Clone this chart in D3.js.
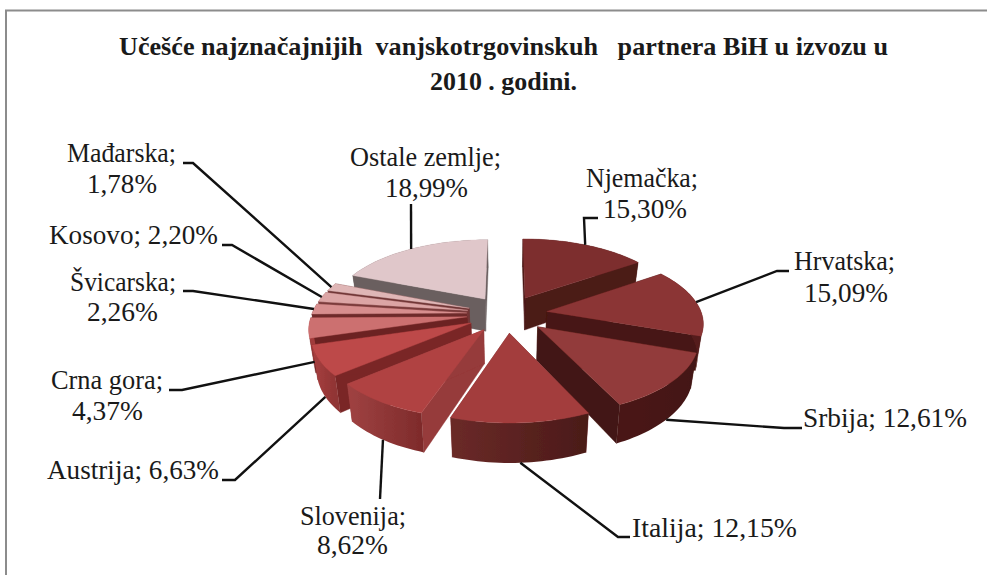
<!DOCTYPE html>
<html><head><meta charset="utf-8">
<script src="https://cdn.jsdelivr.net/npm/d3@7/dist/d3.min.js"></script>
<style>
html,body{margin:0;padding:0;background:#fff}
svg{display:block}
text{font-family:"Liberation Serif",serif;fill:#1a1a1a;white-space:pre}
</style></head><body>
<script>
// ---- data ----
const categories = ["Njemačka","Hrvatska","Srbija","Italija","Slovenija","Austrija","Crna gora","Švicarska","Kosovo","Mađarska","Ostale zemlje"];
const shares = [15.30,15.09,12.61,12.15,8.62,6.63,4.37,2.26,2.20,1.78,18.99];
const titleLines = ["Učešće najznačajnijih  vanjskotrgovinskuh   partnera BiH u izvozu u","2010 . godini."];

// ---- styles ----
const topColors  = ["#7d2f2f","#8b3535","#923a3a","#a33e3e","#b04343","#bd4848","#cc7070","#d78e8e","#dca5a5","#dfb6b6","#e0c7ca"];
const wallColors = ["#4c1a17","#461512","#431613","#7a2c2c","#963a3a","#7a2727","#6c2222","#6e2b2b","#7a3a3a","#703636","#6b5f5f"];
const rimLeft    = ["#4c1a17","#551c1b","#4a1916","#6b2a28","#a04242","#a84040","#aa4040","#6e2b2b","#7a3a3a","#703636","#6b5f5f"];
const rimRight   = ["#4c1a17","#551c1b","#431613","#4a1a18","#7e2b2b","#903434","#a03a3a","#6e2b2b","#7a3a3a","#703636","#6b5f5f"];

// ---- label layout: per line [x0, x1, baseline] ----
const labelLayout = [
 [[586,698,187],[603,687,218]],
 [[794,895,270],[804,888,302]],
 [[803,967,427]],
 [[632,797,537]],
 [[300,406,525],[317,388,554]],
 [[47,219,479]],
 [[51,163,389],[72,143,420]],
 [[70,176,291],[87,158,321]],
 [[49,218,244]],
 [[67,176,162],[87,157,193]],
 [[350,501,166],[385,468,197]]
];
// leader: elbow x, elbow y, end x
const leaderLayout = [
 [584,218,598],[777,271,789],[784,428,802],[618,537,630],[380,499,380],
 [235,480,222],[182,390,169],[193,291,183],[232,245,222],[193,163,183],[411,204,411]
];

const W=987,H=575;
const cx=507, cy=314, Ax=155, Ay=71.4, k=0.1386, explode=0.26, T=33;

const svg=d3.select("body").append("svg").attr("width",W).attr("height",H);
const defs=svg.append("defs");
defs.append("filter").attr("id","soft").append("feGaussianBlur").attr("stdDeviation",0.45);

// frame
svg.append("path").attr("d",d3.line()([[6,575],[6,10.5],[987,10.5]]))
   .attr("fill","none").attr("stroke","#8c8c8c").attr("stroke-width",2);

// pie layout
const arcs=d3.pie().sort(null).value(d=>d)(shares).map((a,i)=>({...a,i,mid:(a.startAngle+a.endAngle)/2}));

function project(X,Y,h){
  const f=1/(1-k*Y);
  return [cx+Ax*X*f*(1-0.03*h), cy+Ay*Y*f+T*f*h];
}
// point on slice: radius r at angle a, shifted out along the slice middle
function pt(s,a,r,h){
  const X=r*Math.sin(a)+explode*Math.sin(s.mid);
  const Y=-r*Math.cos(a)+explode*-Math.cos(s.mid);
  return project(X,Y,h);
}
const line=d3.line();
const arcAngles=s=>{const n=Math.max(4,Math.ceil((s.endAngle-s.startAngle)/0.03));
  return d3.range(n+1).map(j=>s.startAngle+(s.endAngle-s.startAngle)*j/n);};

const pieG=svg.append("g").attr("filter","url(#soft)");
const order=arcs.slice().sort((a,b)=>-Math.cos(a.mid)-(-Math.cos(b.mid)));

order.forEach(s=>{
  const g=pieG.append("g");
  const ang=arcAngles(s);
  const topRim=ang.map(a=>pt(s,a,1,0)), botRim=ang.map(a=>pt(s,a,1,1));
  const apexT=pt(s,0,0,0), apexB=pt(s,0,0,1);
  const col=wallColors[s.i];
  // radial walls
  [[s.startAngle,topRim[0],botRim[0]],[s.endAngle,topRim[topRim.length-1],botRim[botRim.length-1]]].forEach(([a,t,b])=>{
    g.append("path").attr("d",line([apexT,t,b,apexB])+"Z").attr("fill",col).attr("stroke",col).attr("stroke-width",0.4);
  });
  // outer rim
  const xs=topRim.map(p=>p[0]);
  const gid="rim"+s.i;
  const gr=defs.append("linearGradient").attr("id",gid).attr("gradientUnits","userSpaceOnUse")
    .attr("x1",d3.min(xs)).attr("x2",d3.max(xs)).attr("y1",0).attr("y2",0);
  gr.append("stop").attr("offset",0).attr("stop-color",rimLeft[s.i]);
  gr.append("stop").attr("offset",1).attr("stop-color",rimRight[s.i]);
  g.append("path").attr("d",line(topRim.concat(botRim.slice().reverse()))+"Z").attr("fill",`url(#${gid})`);
  // top face
  g.append("path").attr("d",line([apexT].concat(topRim))+"Z").attr("fill",topColors[s.i]).attr("stroke",topColors[s.i]).attr("stroke-width",0.4);
});

// leaders
arcs.forEach(s=>{
  const front=Math.cos(s.mid)<0;
  const start=pt(s,s.mid,1,front?1:0);
  const [ex,ey,endx]=leaderLayout[s.i];
  svg.append("path").attr("d",line([start,[ex,ey],[endx,ey]]))
    .attr("fill","none").attr("stroke","#111").attr("stroke-width",2.4);
});

// labels
const fmt=v=>v.toFixed(2).replace(".",",")+"%";
function fitText(str,x0,x1,y,size,weight){
  svg.append("text").attr("x",x0).attr("y",y).attr("font-size",size).attr("font-weight",weight||null)
    .attr("textLength",x1-x0).attr("lengthAdjust","spacingAndGlyphs").text(str);
}
categories.forEach((c,i)=>{
  const L=labelLayout[i];
  if(L.length===1){fitText(c+"; "+fmt(shares[i]),L[0][0],L[0][1],L[0][2],27);}
  else{fitText(c+";",L[0][0],L[0][1],L[0][2],27);fitText(fmt(shares[i]),L[1][0],L[1][1],L[1][2],27);}
});
fitText(titleLines[0],119,888,55,26,"bold");
fitText(titleLines[1],430,577,90,26,"bold");
</script>
</body></html>
